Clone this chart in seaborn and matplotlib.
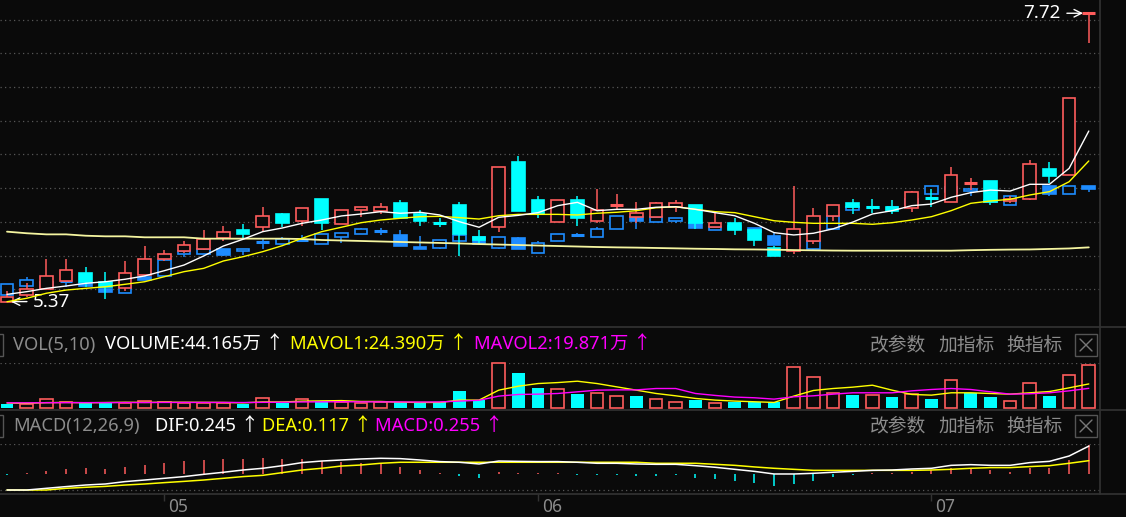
import matplotlib
matplotlib.use("Agg")
import matplotlib.pyplot as plt
import numpy as np
import seaborn as sns
from matplotlib.patches import Rectangle
from matplotlib.lines import Line2D

# ---------------- data ----------------
months = ['05', '06', '07']
month_start = [8, 27, 47]          # first trading day of each month

# main stock (red / cyan candles)
opens = [5.37, 5.42, 5.47, 5.54, 5.60, 5.53, 5.48, 5.59, 5.72, 5.78,
         5.80, 5.89, 5.95, 5.98, 6.08, 6.03, 6.21, 6.00, 6.12, 6.11,
         6.17, 6.08, 6.01, 6.16, 5.90, 5.98, 6.51, 6.20, 6.02, 6.20,
         6.03, 6.15, 6.06, 6.06, 6.14, 6.16, 5.98, 6.01, 5.95, 5.81,
         5.78, 5.86, 6.07, 6.17, 6.145, 6.14, 6.13, 6.214, 6.18, 6.33,
         6.35, 6.19, 6.21, 6.45, 6.40, 7.72]
highs = [5.46, 5.52, 5.72, 5.72, 5.65, 5.61, 5.70, 5.82, 5.79, 5.86,
         5.95, 5.99, 6.00, 6.14, 6.09, 6.13, 6.21, 6.12, 6.14, 6.17,
         6.20, 6.12, 6.05, 6.18, 5.95, 6.47, 6.56, 6.23, 6.20, 6.23,
         6.29, 6.25, 6.18, 6.18, 6.20, 6.16, 6.09, 6.05, 5.96, 5.82,
         6.31, 6.13, 6.16, 6.21, 6.21, 6.20, 6.27, 6.29, 6.47, 6.38,
         6.35, 6.23, 6.52, 6.51, 7.03, 7.72]
lows = [5.37, 5.41, 5.47, 5.53, 5.49, 5.39, 5.46, 5.58, 5.70, 5.77,
        5.79, 5.86, 5.89, 5.94, 5.98, 5.99, 5.95, 6.00, 6.06, 6.08,
        6.05, 5.99, 5.98, 5.74, 5.84, 5.94, 6.11, 6.05, 6.02, 5.99,
        6.01, 6.12, 6.01, 6.06, 6.10, 5.96, 5.98, 5.91, 5.82, 5.74,
        5.76, 5.84, 6.03, 6.08, 6.09, 6.08, 6.10, 6.14, 6.18, 6.28,
        6.16, 6.17, 6.20, 6.34, 6.40, 7.48]
closes = [5.405, 5.47, 5.58, 5.63, 5.53, 5.49, 5.60, 5.72, 5.76, 5.83,
          5.88, 5.94, 5.92, 6.07, 6.01, 6.13, 6.01, 6.12, 6.14, 6.14,
          6.05, 6.03, 6.007, 5.92, 5.87, 6.47, 6.11, 6.08, 6.20, 6.05,
          6.12, 6.165, 6.09, 6.17, 6.17, 6.01, 6.01, 5.95, 5.87, 5.74,
          5.96, 6.07, 6.16, 6.14, 6.141, 6.11, 6.26, 6.209, 6.40, 6.345,
          6.18, 6.21, 6.49, 6.39, 7.03, 7.72]

# overlay (blue candles, drawn on the same price scale)
ov_open = [5.42, 5.50, 5.49, 5.54, 5.52, 5.47, 5.44, 5.57, 5.58, 5.76,
           5.76, 5.80, 5.78, 5.85, 5.84, 5.87, 5.84, 5.90, 5.92, 5.945,
           5.91, 5.815, 5.81, 5.86, 5.90, 5.81, 5.89, 5.77, 5.86, 5.92,
           5.90, 5.96, 6.06, 6.02, 6.03, 6.01, 5.95, 5.99, 5.97, 5.905,
           5.82, 5.80, 5.96, 6.12, 6.15, 6.15, 6.165, 6.25, 6.30, 6.27,
           6.20, 6.16, 6.24, 6.31, 6.25, 6.31]
ov_high = [5.51, 5.57, 5.53, 5.54, 5.52, 5.47, 5.50, 5.59, 5.71, 5.78,
           5.80, 5.80, 5.80, 5.89, 5.90, 5.91, 5.92, 5.93, 5.97, 5.97,
           5.95, 5.905, 5.87, 5.91, 5.90, 5.90, 5.90, 5.86, 5.92, 5.93,
           5.98, 6.07, 6.06, 6.06, 6.05, 6.01, 5.98, 5.99, 5.97, 5.94,
           5.89, 5.86, 6.07, 6.14, 6.15, 6.15, 6.21, 6.315, 6.30, 6.29,
           6.20, 6.23, 6.28, 6.31, 6.31, 6.31]
ov_low = [5.42, 5.50, 5.49, 5.49, 5.50, 5.45, 5.44, 5.55, 5.58, 5.73,
          5.76, 5.74, 5.75, 5.80, 5.84, 5.86, 5.84, 5.85, 5.92, 5.91,
          5.82, 5.80, 5.80, 5.86, 5.84, 5.80, 5.80, 5.77, 5.86, 5.90,
          5.90, 5.96, 5.96, 6.02, 6.01, 5.97, 5.95, 5.96, 5.94, 5.83,
          5.82, 5.78, 5.96, 6.12, 6.14, 6.14, 6.165, 6.25, 6.26, 6.23,
          6.18, 6.16, 6.24, 6.23, 6.25, 6.26]
ov_close = [5.51, 5.55, 5.53, 5.53, 5.50, 5.45, 5.50, 5.55, 5.71, 5.78,
            5.80, 5.75, 5.80, 5.856, 5.88, 5.875, 5.92, 5.93, 5.96, 5.95,
            5.82, 5.80, 5.87, 5.91, 5.84, 5.90, 5.80, 5.85, 5.92, 5.91,
            5.96, 6.07, 6.03, 6.06, 6.05, 5.97, 5.98, 5.96, 5.94, 5.83,
            5.89, 5.86, 6.07, 6.14, 6.14, 6.14, 6.21, 6.315, 6.26, 6.29,
            6.18, 6.23, 6.28, 6.25, 6.31, 6.29]

ma5 = [5.429, 5.451, 5.478, 5.497, 5.519, 5.532, 5.552, 5.579, 5.622, 5.668,
       5.742, 5.823, 5.878, 5.940, 5.970, 6.008, 6.035, 6.068, 6.084, 6.103,
       6.090, 6.098, 6.076, 6.021, 5.976, 6.057, 6.073, 6.095, 6.152, 6.179,
       6.111, 6.122, 6.122, 6.139, 6.143, 6.122, 6.095, 6.070, 6.008, 5.932,
       5.913, 5.927, 5.963, 6.018, 6.084, 6.111, 6.152, 6.165, 6.220, 6.258,
       6.279, 6.271, 6.326, 6.326, 6.456, 6.760]
ma10 = [5.369, 5.397, 5.438, 5.464, 5.478, 5.491, 5.511, 5.532, 5.573, 5.614,
        5.641, 5.701, 5.736, 5.777, 5.826, 5.886, 5.940, 5.976, 6.013, 6.035,
        6.049, 6.062, 6.065, 6.054, 6.043, 6.070, 6.081, 6.081, 6.081, 6.076,
        6.090, 6.098, 6.111, 6.135, 6.143, 6.122, 6.103, 6.095, 6.062, 6.029,
        6.016, 6.008, 6.008, 6.008, 6.000, 6.013, 6.035, 6.062, 6.111, 6.171,
        6.190, 6.204, 6.239, 6.266, 6.347, 6.516]
ma_long = [5.940, 5.927, 5.918, 5.918, 5.907, 5.902, 5.902, 5.894, 5.894, 5.894,
           5.883, 5.883, 5.883, 5.883, 5.883, 5.880, 5.872, 5.868, 5.864, 5.860,
           5.856, 5.852, 5.848, 5.844, 5.839, 5.835, 5.831, 5.827, 5.823, 5.819,
           5.815, 5.812, 5.810, 5.807, 5.804, 5.801, 5.799, 5.796, 5.795, 5.793,
           5.790, 5.788, 5.786, 5.785, 5.785, 5.785, 5.785, 5.785, 5.785, 5.789,
           5.792, 5.794, 5.795, 5.799, 5.803, 5.812]

# volume (万)
volume = [3.4, 3.4, 8.8, 5.4, 4.4, 4.4, 5.1, 6.8, 5.4, 5.1,
          5.1, 5.1, 4.1, 9.9, 5.1, 8.8, 6.8, 6.1, 4.4, 5.4,
          5.4, 5.4, 5.4, 17.0, 7.8, 46.2, 35.3, 20.4, 19.0, 13.9,
          14.6, 11.9, 11.9, 8.8, 6.1, 7.8, 4.4, 6.1, 6.1, 5.4,
          42.1, 31.9, 15.6, 12.9, 12.6, 10.9, 14.3, 8.8, 28.2, 15.3,
          10.9, 6.5, 25.8, 11.9, 34.0, 44.165]
vol_up = [0, 1, 1, 1, 0, 0, 1, 1, 1, 1,
          1, 1, 0, 1, 0, 1, 0, 1, 1, 1,
          0, 0, 0, 0, 0, 1, 0, 0, 1, 0,
          1, 1, 0, 1, 1, 0, 1, 0, 0, 0,
          1, 1, 1, 0, 1, 0, 1, 0, 1, 0,
          0, 1, 1, 0, 1, 1]
mavol1 = [4.8, 4.5, 5.2, 5.4, 5.1, 5.3, 5.6, 5.4, 5.6, 5.6,
          5.5, 5.4, 5.0, 5.9, 5.9, 6.7, 7.0, 7.3, 6.4, 6.4,
          5.6, 5.4, 5.4, 7.8, 7.8, 18.0, 22.1, 24.8, 25.8, 27.2,
          24.8, 21.4, 18.0, 14.6, 12.2, 9.5, 7.8, 6.8, 6.1, 5.4,
          11.9, 17.7, 19.7, 21.1, 23.1, 18.0, 13.6, 12.9, 15.3, 15.3,
          14.6, 13.9, 15.3, 16.6, 20.4, 24.39]
mavol2 = [5.0, 5.0, 5.1, 5.2, 5.2, 5.2, 5.3, 5.3, 5.4, 5.4,
          5.4, 5.4, 5.3, 5.5, 5.6, 5.9, 6.0, 6.1, 6.0, 6.0,
          5.9, 5.8, 5.9, 6.8, 7.6, 11.9, 13.6, 13.9, 14.6, 16.3,
          18.0, 18.3, 18.3, 19.7, 19.7, 14.6, 12.6, 10.9, 10.2, 8.8,
          11.2, 12.2, 13.9, 15.3, 15.3, 15.3, 17.3, 18.7, 19.7, 18.7,
          16.3, 13.9, 14.3, 15.3, 17.3, 19.871]

# MACD(12,26,9)
macd_hist = [-0.003, 0.003, 0.026, 0.041, 0.05, 0.041, 0.059, 0.079, 0.10, 0.114,
             0.123, 0.129, 0.132, 0.138, 0.129, 0.129, 0.114, 0.109, 0.10, 0.094,
             0.059, 0.035, 0.012, -0.015, -0.038, 0.021, 0.012, 0.003, 0.006, -0.003,
             -0.009, -0.009, -0.015, -0.015, -0.009, -0.038, -0.047, -0.062, -0.076, -0.106,
             -0.088, -0.062, -0.023, -0.009, 0.006, 0.012, 0.021, 0.035, 0.05, 0.05,
             0.035, 0.021, 0.05, 0.05, 0.123, 0.255]
dif = [-0.141, -0.141, -0.126, -0.111, -0.097, -0.088, -0.067, -0.053, -0.038, -0.023,
       -0.003, 0.015, 0.035, 0.05, 0.073, 0.10, 0.114, 0.123, 0.132, 0.138,
       0.135, 0.123, 0.109, 0.103, 0.088, 0.114, 0.111, 0.109, 0.109, 0.103,
       0.094, 0.094, 0.088, 0.085, 0.085, 0.073, 0.059, 0.041, 0.023, 0.0,
       0.0, 0.006, 0.015, 0.023, 0.032, 0.035, 0.044, 0.05, 0.076, 0.082,
       0.076, 0.076, 0.10, 0.111, 0.158, 0.245]
dea = [-0.141, -0.141, -0.141, -0.126, -0.117, -0.109, -0.097, -0.088, -0.076, -0.065,
       -0.053, -0.038, -0.023, -0.012, 0.012, 0.035, 0.05, 0.07, 0.079, 0.094,
       0.103, 0.103, 0.103, 0.103, 0.103, 0.103, 0.103, 0.103, 0.103, 0.103,
       0.103, 0.103, 0.103, 0.094, 0.094, 0.094, 0.085, 0.076, 0.062, 0.05,
       0.041, 0.032, 0.032, 0.032, 0.032, 0.032, 0.032, 0.035, 0.041, 0.05,
       0.056, 0.056, 0.065, 0.073, 0.094, 0.117]

# ---------------- style ----------------
BG = '#0a0a0a'
RED = '#ff5c5c'
CYAN = '#00ffff'
BLUE = '#1e8cff'
GREY = '#8c8c8c'
SEP = '#333333'
DOT = '#575757'
LATIN = ['Noto Sans', 'Noto Sans CJK SC', 'DejaVu Sans']
CJK = ['Noto Sans CJK SC', 'DejaVu Sans']

sns.set_theme(style='dark', rc={'axes.facecolor': BG, 'figure.facecolor': BG})
plt.rcParams['font.family'] = LATIN

W, H = 1126, 517
fig = plt.figure(figsize=(W / 100, H / 100), dpi=100)
renderer = fig.canvas.get_renderer()


def px_axes(x0, y0, x1, y1):
    return fig.add_axes([x0 / W, 1 - y1 / H, (x1 - x0) / W, (y1 - y0) / H])


def fig_line(x0, y0, x1, y1, **kw):
    fig.add_artist(Line2D([x0 / W, x1 / W], [1 - y0 / H, 1 - y1 / H],
                          transform=fig.transFigure, **kw))


def fig_text(x, y, s, color, size=13.2, **kw):
    return fig.text(x / W, 1 - y / H, s, color=color, fontsize=size,
                    va='center', ha='left', **kw)


ax = px_axes(0, 0, 1100, 327)
axv = px_axes(0, 362.7, 1100, 407.7)
axm = px_axes(0, 444.3, 1100, 494)
idx = np.arange(len(opens))
bw = 0.64

for a in (ax, axv, axm):
    a.set_facecolor(BG)
    for s in a.spines.values():
        s.set_visible(False)


def draw_candles(a, o, h, l, c, col_up, col_dn, z):
    for i in range(len(o)):
        up = c[i] >= o[i]
        col = col_up if up else col_dn
        top, bot = max(o[i], c[i]), min(o[i], c[i])
        a.vlines(i, top, h[i], color=col, lw=1.1, zorder=z)
        a.vlines(i, l[i], bot, color=col, lw=1.1, zorder=z)
        if top - bot < 0.015:
            a.hlines((top + bot) / 2, i - bw / 2, i + bw / 2, color=col, lw=2.2, zorder=z)
        else:
            a.add_patch(Rectangle((i - bw / 2, bot), bw, top - bot,
                                  facecolor=BG if up else col, edgecolor=col,
                                  lw=1.2, zorder=z))


# ---------------- price panel ----------------
for j in range(9):
    yy = 1 - (19.5 + 33.72 * j) / 327
    ax.plot([0, 1], [yy, yy], transform=ax.transAxes, color=DOT, lw=0.9,
            ls=(0, (1, 2.6)), zorder=1)

draw_candles(ax, ov_open, ov_high, ov_low, ov_close, BLUE, BLUE, 2)
draw_candles(ax, opens, highs, lows, closes, RED, CYAN, 3)

sns.lineplot(x=idx, y=ma_long, ax=ax, color='#f5f5a0', lw=1.3, zorder=4)
sns.lineplot(x=idx, y=ma10, ax=ax, color='#ffff00', lw=1.0, zorder=4)
sns.lineplot(x=idx, y=ma5, ax=ax, color='white', lw=1.0, zorder=5)

ax.annotate(f'{min(lows):.2f}', xy=(0.05, min(lows)), xytext=(25, 0),
            textcoords='offset pixels', color='white', fontsize=13.5,
            va='center', ha='left',
            arrowprops=dict(arrowstyle='->', color='white', lw=1))
ax.annotate(f'{max(highs):.2f}', xy=(len(highs) - 1.15, max(highs)), xytext=(-25, 0),
            textcoords='offset pixels', color='white', fontsize=13.5,
            va='center', ha='right',
            arrowprops=dict(arrowstyle='->', color='white', lw=1))

ax.set_ylim(5.163, 7.828)

# ---------------- volume panel ----------------
axv.axhline(max(volume), color=DOT, lw=0.9, ls=(0, (1, 2.6)), zorder=1)
for i, v in enumerate(volume):
    if vol_up[i]:
        axv.bar(i, v, width=bw, facecolor=BG, edgecolor=RED, lw=1.2, zorder=2, clip_on=False)
    else:
        axv.bar(i, v, width=bw, color=CYAN, lw=0, zorder=2, clip_on=False)
sns.lineplot(x=idx, y=mavol1, ax=axv, color='#ffff00', lw=1.0, zorder=3)
sns.lineplot(x=idx, y=mavol2, ax=axv, color='#ff00ff', lw=1.0, zorder=3)
axv.set_ylim(0, max(volume))

# ---------------- MACD panel ----------------
axm.axhline(0.2605, color=DOT, lw=0.9, ls=(0, (1, 2.6)), zorder=1)
axm.axhline(-0.141, color=DOT, lw=0.9, ls=(0, (1, 2.6)), zorder=1)
for i, m in enumerate(macd_hist):
    axm.vlines(i, 0, m if abs(m) > 0.004 else np.sign(m) * 0.006,
               color=RED if m >= 0 else CYAN, lw=1.1, zorder=2)
sns.lineplot(x=idx, y=dea, ax=axm, color='#ffff00', lw=1.1, zorder=3)
sns.lineplot(x=idx, y=dif, ax=axm, color='white', lw=1.1, zorder=4)
axm.set_ylim(-0.176, 0.261)
axm.set_xticks(month_start)
axm.set_xticklabels([''] * len(months))
axm.tick_params(axis='x', colors=SEP, length=5, width=1, bottom=True)
for pos, lbl in zip(month_start, months):
    axm.annotate(lbl, xy=(pos, 0), xycoords=('data', 'axes fraction'),
                 xytext=(4, -22), textcoords='offset pixels', color=GREY,
                 fontsize=12.5, ha='left', va='bottom')

for a in (ax, axv, axm):
    a.set_xlim(-0.356, 55.57)
    a.set_xlabel('')
    a.set_ylabel('')
    a.set_yticks([])
    if a is not axm:
        a.set_xticks([])

# ---------------- frame, headers ----------------
for yy in (327, 410, 494):
    fig_line(0, yy, W, yy, color=SEP, lw=1.2)
fig_line(1100, 0, 1100, 494, color=SEP, lw=1.2)

vol_hdr = [(13, 'VOL(5,10)', GREY),
           (105, f'VOLUME:{volume[-1]:.3f}万 ↑', 'white'),
           (290, f'MAVOL1:{mavol1[-1]:.3f}万 ↑', '#ffff00'),
           (474, f'MAVOL2:{mavol2[-1]:.3f}万 ↑', '#ff00ff')]
macd_hdr = [(13, 'MACD(12,26,9)', GREY),
            (155, f'DIF:{dif[-1]:.3f} ↑', 'white'),
            (260, f'DEA:{dea[-1]:.3f} ↑', '#ffff00'),
            (374, f'MACD:{macd_hist[-1]:.3f} ↑', '#ff00ff')]
for yrow, items in ((345, vol_hdr), (426, macd_hdr)):
    x_end = 0
    for x, s, c in items:
        t = fig_text(max(x, x_end + 3), yrow, s, c)
        x_end = t.get_window_extent(renderer).x1
    for x, s in ((870, '改参数'), (938, '加指标'), (1006, '换指标')):
        fig_text(x, yrow, s, GREY, size=13.5, family=CJK)
    fig.add_artist(Rectangle((1075 / W, 1 - (yrow + 11) / H), 22 / W, 22 / H,
                             transform=fig.transFigure, fill=False, edgecolor='#555555', lw=1))
    fig_line(1080, yrow - 6, 1092, yrow + 6, color='#777777', lw=1)
    fig_line(1080, yrow + 6, 1092, yrow - 6, color='#777777', lw=1)
    fig.add_artist(Rectangle((-10 / W, 1 - (yrow + 11) / H), 13 / W, 22 / H,
                             transform=fig.transFigure, fill=False, edgecolor='#555555', lw=1))

fig.savefig('out.png', dpi=100, facecolor=BG)
